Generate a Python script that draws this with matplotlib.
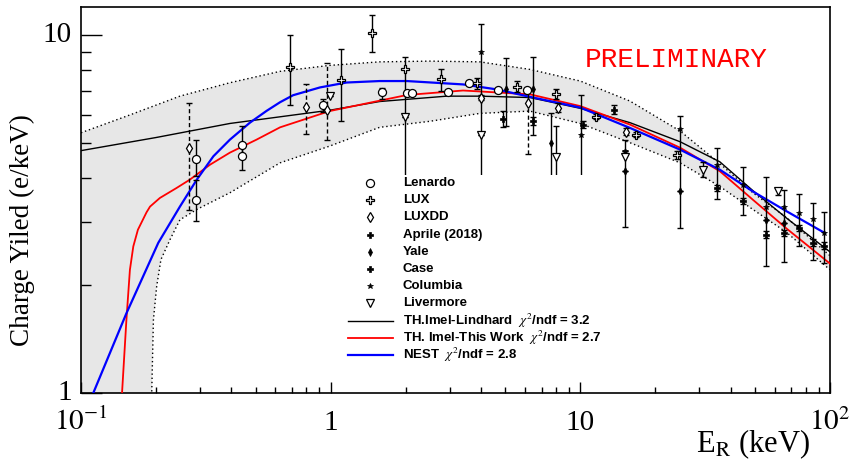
import matplotlib.pyplot as plt
import matplotlib.transforms as mtransforms
from matplotlib.lines import Line2D
from matplotlib.patches import Rectangle
from matplotlib.ticker import FixedLocator, LogLocator, NullFormatter

plt.rcParams['font.family'] = ['Liberation Serif', 'DejaVu Serif']
plt.rcParams['mathtext.fontset'] = 'stix'

# model curves: E_R (keV) vs charge yield (e/keV)
lind_x = [0.1, 0.2, 0.395, 1.0, 1.57, 2.92, 3.96, 6.28, 10, 15.8, 25.1, 36.2, 49.1, 67.1, 100]
lind_y = [4.76, 5.18, 5.67, 6.18, 6.53, 6.76, 6.76, 6.70, 6.25, 5.70, 5.04, 4.43, 3.68, 3.08, 2.48]

work_x = [0.146, 0.152, 0.157, 0.162, 0.169, 0.183, 0.189, 0.207, 0.241, 0.273, 0.329, 0.395,
          0.505, 0.627, 0.99, 2.02, 3.39, 6.28, 10, 15.8, 25.1, 36.2, 49.1, 67.1, 100]
work_y = [1.0, 1.60, 2.21, 2.57, 2.86, 3.20, 3.32, 3.51, 3.74, 3.95, 4.35, 4.70,
          5.11, 5.53, 6.14, 6.81, 7.01, 6.84, 6.34, 5.63, 4.85, 4.17, 3.47, 2.88, 2.30]

nest_x = [0.112, 0.152, 0.204, 0.249, 0.291, 0.339, 0.395, 0.475, 0.554, 0.627, 0.707, 0.906,
          1.158, 1.57, 2.02, 3.39, 4.63, 6.28, 10, 15.8, 25.1, 36.2, 49.1, 67.1, 95.4]
nest_y = [1.0, 1.67, 2.63, 3.32, 3.95, 4.59, 5.11, 5.70, 6.15, 6.50, 6.80, 7.15,
          7.38, 7.45, 7.45, 7.29, 7.06, 6.73, 6.28, 5.51, 4.79, 4.21, 3.66, 3.22, 2.80]

band_up_x = [0.1, 0.157, 0.249, 0.395, 0.627, 0.99, 1.57, 2.50, 3.96, 6.28, 10, 15.8, 25.1, 36.2, 49.1, 67.1, 100]
band_up_y = [5.34, 5.99, 6.76, 7.37, 7.93, 8.24, 8.43, 8.47, 8.43, 8.03, 7.45, 6.55, 5.40, 4.38, 3.63, 3.09, 2.42]
band_lo_x = [0.1, 0.19, 0.192, 0.195, 0.201, 0.209, 0.227, 0.249, 0.291, 0.395, 0.627, 0.99, 1.57,
             2.50, 3.96, 6.28, 10, 15.8, 25.1, 36.2, 49.1, 67.1, 100]
band_lo_y = [0.9, 0.9, 1.0, 1.6, 1.99, 2.36, 2.68, 3.05, 3.26, 3.63, 4.40, 4.90, 5.53,
             5.75, 6.05, 6.14, 5.67, 5.01, 4.40, 3.78, 3.26, 2.81, 2.21]

# measurements: x, y, lower / upper end of error bar
lenardo_x = [0.29, 0.29, 0.44, 0.44, 0.93, 1.61, 2.02, 2.11, 2.94, 3.59, 4.67, 6.10]
lenardo_y = [4.51, 3.46, 4.92, 4.59, 6.37, 6.94, 6.91, 6.91, 6.96, 7.37, 7.03, 7.03]
lenardo_lo = [4.04, 3.02, 4.59, 4.19, 6.10, 6.65, 6.85, 6.85, 6.90, 7.30, 6.97, 6.97]
lenardo_hi = [5.09, 3.95, 5.57, 4.92, 6.62, 7.14, 6.97, 6.97, 7.02, 7.44, 7.09, 7.09]

lux_x = [0.69, 1.10, 1.47, 1.98, 2.77, 3.87, 5.56, 7.99, 11.55, 16.65, 24.31]
lux_y = [8.17, 7.48, 10.13, 8.07, 7.53, 7.37, 7.18, 6.84, 5.92, 5.28, 4.64]
lux_lo = [6.37, 5.77, 8.99, 4.00, 6.98, 7.10, 6.94, 6.62, 5.82, 5.18, 4.52]
lux_hi = [10.0, 9.14, 11.38, 8.72, 8.03, 7.62, 7.44, 7.06, 6.02, 5.38, 4.76]

luxdd_x = [0.27, 0.80, 0.97, 3.99, 6.19, 8.14, 15.2]
luxdd_y = [4.85, 6.31, 6.20, 6.69, 6.48, 6.27, 5.37]
luxdd_lo = [3.24, 5.31, 5.11, 6.60, 4.66, 6.10, 5.25]
luxdd_hi = [6.45, 7.32, 8.39, 6.80, 7.14, 6.45, 5.50]

aprile_x = [35.15, 44.92, 55.4, 65.4, 75.3, 85.2, 94.8]
aprile_y = [3.74, 3.44, 2.77, 2.80, 2.89, 2.63, 2.58]
aprile_lo = [3.66, 3.37, 2.71, 2.74, 2.83, 2.57, 2.52]
aprile_hi = [3.82, 3.51, 2.83, 2.86, 2.95, 2.69, 2.64]

yale_x = [5.04, 6.44, 7.63, 15.09, 25.06, 55.4, 65.4]
yale_y = [7.10, 7.06, 5.01, 4.17, 3.66, 3.05, 2.99]
yale_lo = [5.57, 5.25, 4.00, 4.17, 3.66, 3.05, 2.99]
yale_hi = [8.65, 8.72, 6.07, 4.17, 3.66, 3.05, 2.99]

case_x = [4.91, 6.44, 10.27, 13.67]
case_y = [5.82, 5.75, 5.63, 6.18]
case_lo = [5.54, 5.60, 5.50, 6.03]
case_hi = [6.14, 5.90, 5.76, 6.37]

columbia_x = [3.99, 10.03, 15.09, 25.06, 35.15, 44.92, 55.4, 65.4, 75.3, 85.2, 94.8]
columbia_y = [9.00, 5.25, 4.74, 5.46, 4.35, 3.82, 3.32, 3.32, 3.19, 3.07, 2.80]
columbia_lo = [4.00, 4.00, 4.74, 2.89, 3.49, 3.15, 2.27, 2.33, 2.57, 2.36, 2.31]
columbia_hi = [10.78, 6.80, 4.74, 5.94, 4.85, 4.28, 4.02, 3.70, 3.59, 3.39, 3.21]

livermore_x = [0.99, 1.98, 3.99, 7.99, 15.09, 30.9, 62.0]
livermore_y = [6.76, 5.92, 5.28, 4.57, 4.57, 4.21, 3.66]
livermore_lo = [6.76, 5.92, 5.28, 4.00, 2.92, 4.02, 3.58]
livermore_hi = [6.76, 5.92, 5.28, 5.57, 5.11, 4.43, 3.74]

open_style = dict(mfc='white', mec='black', mew=0.9)
full_style = dict(mfc='black', mec='black', mew=0.5)
datasets = [
    ('Lenardo', lenardo_x, lenardo_y, lenardo_lo, lenardo_hi, dict(marker='o', ms=5.8, **open_style), False),
    ('LUX', lux_x, lux_y, lux_lo, lux_hi, dict(marker='P', ms=6.3, **open_style), False),
    ('LUXDD', luxdd_x, luxdd_y, luxdd_lo, luxdd_hi, dict(marker='d', ms=5, **open_style), True),
    ('Aprile (2018)', aprile_x, aprile_y, aprile_lo, aprile_hi, dict(marker='P', ms=4.3, **full_style), False),
    ('Yale', yale_x, yale_y, yale_lo, yale_hi, dict(marker='d', ms=3.8, **full_style), False),
    ('Case', case_x, case_y, case_lo, case_hi, dict(marker='P', ms=4.3, **full_style), False),
    ('Columbia', columbia_x, columbia_y, columbia_lo, columbia_hi, dict(marker='*', ms=4.3, **full_style), False),
    ('Livermore', livermore_x, livermore_y, livermore_lo, livermore_hi, dict(marker='v', ms=6.3, **open_style), False),
]
curves = [
    (lind_x, lind_y, 'black', 1.0, r'TH.Imel-Lindhard  $\chi^{2}$/ndf = 3.2'),
    (work_x, work_y, 'red', 1.3, r'TH. Imel-This Work  $\chi^{2}$/ndf = 2.7'),
    (nest_x, nest_y, 'blue', 1.6, r'NEST  $\chi^{2}$/ndf = 2.8'),
]

W, H = 853, 463
fig = plt.figure(figsize=(W / 100, H / 100), dpi=100)
ax = fig.add_axes([81 / W, 70 / H, 749 / W, 386 / H])
ax.set_xscale('log')
ax.set_yscale('log')
ax.set_xlim(0.1, 100)
ax.set_ylim(1, 12)

# uncertainty band
ax.fill(band_up_x + band_lo_x[::-1], band_up_y + band_lo_y[::-1], color='#e7e7e7', lw=0, zorder=1)
ax.plot(band_up_x, band_up_y, color='black', lw=1.0, ls=(0, (1, 2)), zorder=2)
ax.plot(band_lo_x, band_lo_y, color='black', lw=1.0, ls=(0, (1, 2)), zorder=2)

for cx, cy, col, lw, lab in curves:
    ax.plot(cx, cy, color=col, lw=lw, zorder=3)

for lab, x, y, lo, hi, st, dashed in datasets:
    err = [[yy - l for yy, l in zip(y, lo)], [h - yy for yy, h in zip(y, hi)]]
    eb = ax.errorbar(x, y, yerr=err, fmt='none', ecolor='black', elinewidth=1.0,
                     capsize=2, capthick=1.0, zorder=4)
    if dashed:
        eb[2][0].set_linestyle((0, (3, 2)))
    ax.plot(x, y, ls='none', zorder=5, **st)

# axes styling (ROOT look)
for sp in ax.spines.values():
    sp.set_linewidth(1.2)
ax.xaxis.set_major_locator(FixedLocator([0.1, 1, 10, 100]))
ax.xaxis.set_minor_locator(LogLocator(base=10, subs=range(2, 10)))
ax.yaxis.set_major_locator(FixedLocator([1, 10]))
ax.yaxis.set_minor_locator(LogLocator(base=10, subs=range(2, 10)))
ax.xaxis.set_minor_formatter(NullFormatter())
ax.yaxis.set_minor_formatter(NullFormatter())
ax.tick_params(which='both', direction='in', top=False, right=False,
               labelbottom=False, labelleft=False, width=1.0)
ax.tick_params(axis='y', which='major', length=15)
ax.tick_params(axis='y', which='minor', length=7.5)
ax.tick_params(axis='x', which='major', length=8)
ax.tick_params(axis='x', which='minor', length=4)

xt = mtransforms.blended_transform_factory(ax.transData, ax.transAxes)
for v, lab in zip([0.1, 1, 10, 100], [r'$10^{-1}$', '1', '10', r'$10^{2}$']):
    ax.text(v, -0.097, lab, transform=xt, ha='center', va='baseline', fontsize=21, clip_on=False)
yt = mtransforms.blended_transform_factory(ax.transAxes, ax.transData)
for v, lab in zip([1, 10], ['1', '10']):
    ax.text(-0.012, v, lab, transform=yt, ha='right', va='center', fontsize=21, clip_on=False)

fig.text(810 / W, 1 - 452 / H, r'E$_{\mathrm{R}}$ (keV)', ha='right', va='baseline', fontsize=22)
fig.text(22 / W, 1 - 230 / H, 'Charge Yiled (e/keV)', rotation=90, ha='center', va='center', fontsize=19.5)
fig.text(676 / W, 1 - 60 / H, 'PRELIMINARY', color='red', family='Liberation Mono',
         fontsize=20, ha='center', va='center')

# legend drawn by hand on a white box
fig.add_artist(Rectangle((342 / W, 1 - 368 / H), (615 - 342) / W, (368 - 175) / H,
                         transform=fig.transFigure, facecolor='white', edgecolor='none', zorder=5))
rows = [183 + 17.2 * i for i in range(11)]
leg_font = dict(family=['Liberation Sans', 'DejaVu Sans'], weight='bold', fontsize=9.5)
for (lab, x, y, lo, hi, st, dashed), ry in zip(datasets, rows[:8]):
    fig.add_artist(Line2D([370 / W], [1 - ry / H], transform=fig.transFigure, ls='none', zorder=6, **st))
    fig.text(403 / W, 1 - ry / H, lab, va='center', ha='left', zorder=6, **leg_font)
for (cx, cy, col, lw, lab), ry in zip(curves, rows[8:]):
    fig.add_artist(Line2D([348 / W, 393 / W], [1 - ry / H] * 2, transform=fig.transFigure,
                          color=col, lw=lw, zorder=6))
    fig.text(403 / W, 1 - ry / H, lab, va='center', ha='left', zorder=6, **leg_font)

fig.savefig('out.png', dpi=100)
